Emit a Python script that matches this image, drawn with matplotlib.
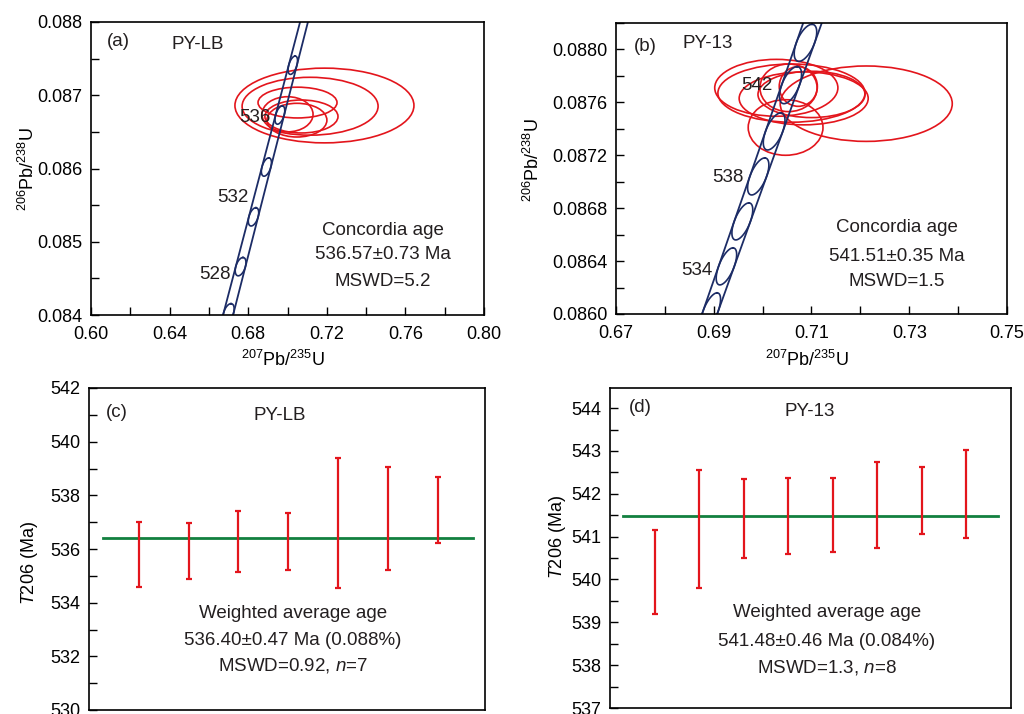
import numpy as np
import matplotlib
matplotlib.use("Agg")
import matplotlib.pyplot as plt
from matplotlib.patches import Ellipse
from matplotlib.ticker import MultipleLocator, FixedLocator, FormatStrFormatter

plt.rcParams['font.family'] = ['Liberation Sans', 'DejaVu Sans']
plt.rcParams['mathtext.fontset'] = 'custom'
plt.rcParams['mathtext.rm'] = 'Liberation Sans'
plt.rcParams['mathtext.it'] = 'Liberation Sans:italic'
plt.rcParams['text.color'] = '#231f20'

RED = '#e3151c'
NAVY = '#1c2c66'
GREEN = '#12803f'
FS = 13      # tick labels, axis labels
FT = 13.5    # annotations

# ---- (a) PY-LB concordia ----
a_ell_x = [0.7188, 0.7115, 0.7051, 0.7000, 0.7071, 0.7048]
a_ell_y = [0.08686, 0.08685, 0.08690, 0.08674, 0.08671, 0.08666]
a_ell_w = [0.0911, 0.0692, 0.0402, 0.0260, 0.0372, 0.0305]
a_ell_h = [0.00102, 0.00079, 0.00042, 0.00048, 0.00045, 0.00046]
# concordia band (left / right edge) read at the bottom and top of the axis
a_band_y = [0.084, 0.088]
a_band_left = [0.6672, 0.7064]
a_band_right = [0.6723, 0.7104]
a_marker_y = [0.08403, 0.08466, 0.08534, 0.08602, 0.08673, 0.08741]
a_age_labels = ["528", "532", "536"]
a_age_x = [0.6631, 0.6723, 0.6835]
a_age_y = [0.08455, 0.08561, 0.08670]
a_xticks = [0.60, 0.64, 0.68, 0.72, 0.76, 0.80]

# ---- (b) PY-13 concordia ----
b_ell_x = [0.7212, 0.7028, 0.7059, 0.7084, 0.7047, 0.7053, 0.7073, 0.7100]
b_ell_y = [0.08759, 0.08771, 0.08767, 0.08763, 0.08741, 0.08771, 0.08772, 0.08766]
b_ell_w = [0.0352, 0.0252, 0.0301, 0.0264, 0.0153, 0.0117, 0.0078, 0.0219]
b_ell_h = [0.00057, 0.00043, 0.00044, 0.00040, 0.00042, 0.00036, 0.00030, 0.00035]
b_band_y = [0.0860, 0.0882]
b_band_left = [0.6876, 0.7083]
b_band_right = [0.6907, 0.7121]
b_marker_y = [0.08602, 0.08636, 0.08670, 0.08704, 0.08738, 0.08773, 0.08805]
b_age_labels = ["534", "538", "542"]
b_age_x = [0.6865, 0.6928, 0.6988]
b_age_y = [0.08633, 0.08703, 0.08773]
b_xticks = [0.67, 0.69, 0.71, 0.73, 0.75]
b_xminor = [0.68, 0.70, 0.72, 0.74]

# ---- (c) PY-LB weighted mean ----
c_low = [534.59, 534.88, 535.13, 535.23, 534.53, 535.23, 536.21]
c_high = [537.02, 536.98, 537.42, 537.35, 539.40, 539.07, 538.69]
c_mean = 536.40

# ---- (d) PY-13 weighted mean ----
d_low = [539.19, 539.81, 540.51, 540.60, 540.63, 540.74, 541.06, 540.96]
d_high = [541.15, 542.55, 542.34, 542.37, 542.37, 542.74, 542.63, 543.02]
d_mean = 541.48


def style(ax):
    ax.tick_params(which='both', direction='in', length=6, width=1.0,
                   labelsize=FS, top=False, right=False)
    ax.tick_params(axis='x', pad=8)
    ax.tick_params(axis='y', pad=6)
    for s in ax.spines.values():
        s.set_linewidth(1.2)


def note(ax, x, y, s, **kw):
    ax.text(x, y, s, transform=ax.transAxes, fontsize=FT, va='center', **kw)


def concordia(ax, band_y, left, right, marker_y, lab, lx, ly, half_len):
    ax.plot(left, band_y, color=NAVY, lw=1.3)
    ax.plot(right, band_y, color=NAVY, lw=1.3)
    mid = [(l + r) / 2 for l, r in zip(left, right)]
    slope = (mid[1] - mid[0]) / (band_y[1] - band_y[0])
    t = np.linspace(0, 2 * np.pi, 80)
    for my in marker_y:
        cx = np.interp(my, band_y, mid)
        hw = np.interp(my, band_y, [(r - l) / 2 for l, r in zip(left, right)])
        ax.plot(cx + half_len * slope * np.cos(t) + hw * np.sin(t),
                my + half_len * np.cos(t), color=NAVY, lw=1.2)
    for s, x, y in zip(lab, lx, ly):
        ax.text(x, y, s, fontsize=FT, ha='center', va='center')


fig = plt.figure(figsize=(10.24, 7.14), dpi=100)

# (a)
ax = fig.add_axes([91 / 1024, 1 - 315 / 714, 393 / 1024, 293 / 714])
for x, y, w, h in zip(a_ell_x, a_ell_y, a_ell_w, a_ell_h):
    ax.add_patch(Ellipse((x, y), w, h, fill=False, ec=RED, lw=1.2))
concordia(ax, a_band_y, a_band_left, a_band_right, a_marker_y,
          a_age_labels, a_age_x, a_age_y, 0.000125)
ax.set_xlim(0.60, 0.80)
ax.set_ylim(0.084, 0.088)
ax.xaxis.set_major_locator(FixedLocator(a_xticks))
ax.xaxis.set_minor_locator(MultipleLocator(0.02))
ax.yaxis.set_major_locator(MultipleLocator(0.001))
ax.yaxis.set_minor_locator(MultipleLocator(0.0005))
ax.xaxis.set_major_formatter(FormatStrFormatter('%.2f'))
ax.yaxis.set_major_formatter(FormatStrFormatter('%.3f'))
style(ax)
ax.set_ylabel(r'$^{206}$Pb/$^{238}$U', fontsize=FS, va='center')
ax.yaxis.set_label_coords(-0.160, 0.5)
ax.set_xlabel(r'$^{207}$Pb/$^{235}$U', fontsize=FS, va='center')
ax.xaxis.set_label_coords(0.489, -0.154)
note(ax, 0.040, 0.932, '(a)')
note(ax, 0.272, 0.922, 'PY-LB', ha='center')
note(ax, 0.743, 0.290, 'Concordia age', ha='center')
note(ax, 0.743, 0.205, '536.57±0.73 Ma', ha='center')
note(ax, 0.743, 0.113, 'MSWD=5.2', ha='center')

# (b)
ax = fig.add_axes([616 / 1024, 1 - 314 / 714, 391 / 1024, 291 / 714])
for x, y, w, h in zip(b_ell_x, b_ell_y, b_ell_w, b_ell_h):
    ax.add_patch(Ellipse((x, y), w, h, fill=False, ec=RED, lw=1.2))
concordia(ax, b_band_y, b_band_left, b_band_right, b_marker_y,
          b_age_labels, b_age_x, b_age_y, 0.00014)
ax.set_xlim(0.67, 0.75)
ax.set_ylim(0.0860, 0.0882)
ax.xaxis.set_major_locator(FixedLocator(b_xticks))
ax.xaxis.set_minor_locator(FixedLocator(b_xminor))
ax.yaxis.set_major_locator(MultipleLocator(0.0004))
ax.yaxis.set_minor_locator(MultipleLocator(0.0002))
ax.xaxis.set_major_formatter(FormatStrFormatter('%.2f'))
ax.yaxis.set_major_formatter(FormatStrFormatter('%.4f'))
style(ax)
ax.set_ylabel(r'$^{206}$Pb/$^{238}$U', fontsize=FS, va='center')
ax.yaxis.set_label_coords(-0.212, 0.53)
ax.set_xlabel(r'$^{207}$Pb/$^{235}$U', fontsize=FS, va='center')
ax.xaxis.set_label_coords(0.488, -0.158)
note(ax, 0.046, 0.918, '(b)')
note(ax, 0.235, 0.931, 'PY-13', ha='center')
note(ax, 0.719, 0.296, 'Concordia age', ha='center')
note(ax, 0.719, 0.196, '541.51±0.35 Ma', ha='center')
note(ax, 0.719, 0.110, 'MSWD=1.5', ha='center')


def weighted(ax, low, high, mean):
    xs = np.arange(1, len(low) + 1)
    mid = [(l + h) / 2 for l, h in zip(low, high)]
    err = [(h - l) / 2 for l, h in zip(low, high)]
    ax.errorbar(xs, mid, yerr=err, fmt='none', ecolor=RED, elinewidth=1.6,
                capsize=2, capthick=1.6, zorder=3)
    ax.plot([0.29, len(low) + 0.7], [mean, mean], color=GREEN, lw=2, zorder=2)
    ax.set_xticks([])


# (c)
ax = fig.add_axes([89 / 1024, 1 - 710 / 714, 396 / 1024, 322 / 714])
weighted(ax, c_low, c_high, c_mean)
ax.set_xlim(0, 7.95)
ax.set_ylim(530, 542)
ax.yaxis.set_major_locator(MultipleLocator(2))
ax.yaxis.set_minor_locator(MultipleLocator(1))
style(ax)
ax.set_ylabel(r'$T$206 (Ma)', fontsize=FS, va='center')
ax.yaxis.set_label_coords(-0.149, 0.457)
note(ax, 0.042, 0.925, '(c)')
note(ax, 0.482, 0.915, 'PY-LB', ha='center')
note(ax, 0.515, 0.301, 'Weighted average age', ha='center')
note(ax, 0.515, 0.217, '536.40±0.47 Ma (0.088%)', ha='center')
note(ax, 0.515, 0.137, r'MSWD=0.92, $n$=7', ha='center')

# (d)
ax = fig.add_axes([610 / 1024, 1 - 708 / 714, 401 / 1024, 320 / 714])
weighted(ax, d_low, d_high, d_mean)
ax.set_xlim(0, 9)
ax.set_ylim(537, 544.47)
ax.yaxis.set_major_locator(MultipleLocator(1))
ax.yaxis.set_minor_locator(MultipleLocator(0.5))
style(ax)
ax.set_ylabel(r'$T$206 (Ma)', fontsize=FS, va='center')
ax.yaxis.set_label_coords(-0.132, 0.534)
note(ax, 0.047, 0.9375, '(d)')
note(ax, 0.499, 0.925, 'PY-13', ha='center')
note(ax, 0.541, 0.297, 'Weighted average age', ha='center')
note(ax, 0.541, 0.209, '541.48±0.46 Ma (0.084%)', ha='center')
note(ax, 0.541, 0.128, r'MSWD=1.3, $n$=8', ha='center')

fig.savefig('out.png', dpi=100)
